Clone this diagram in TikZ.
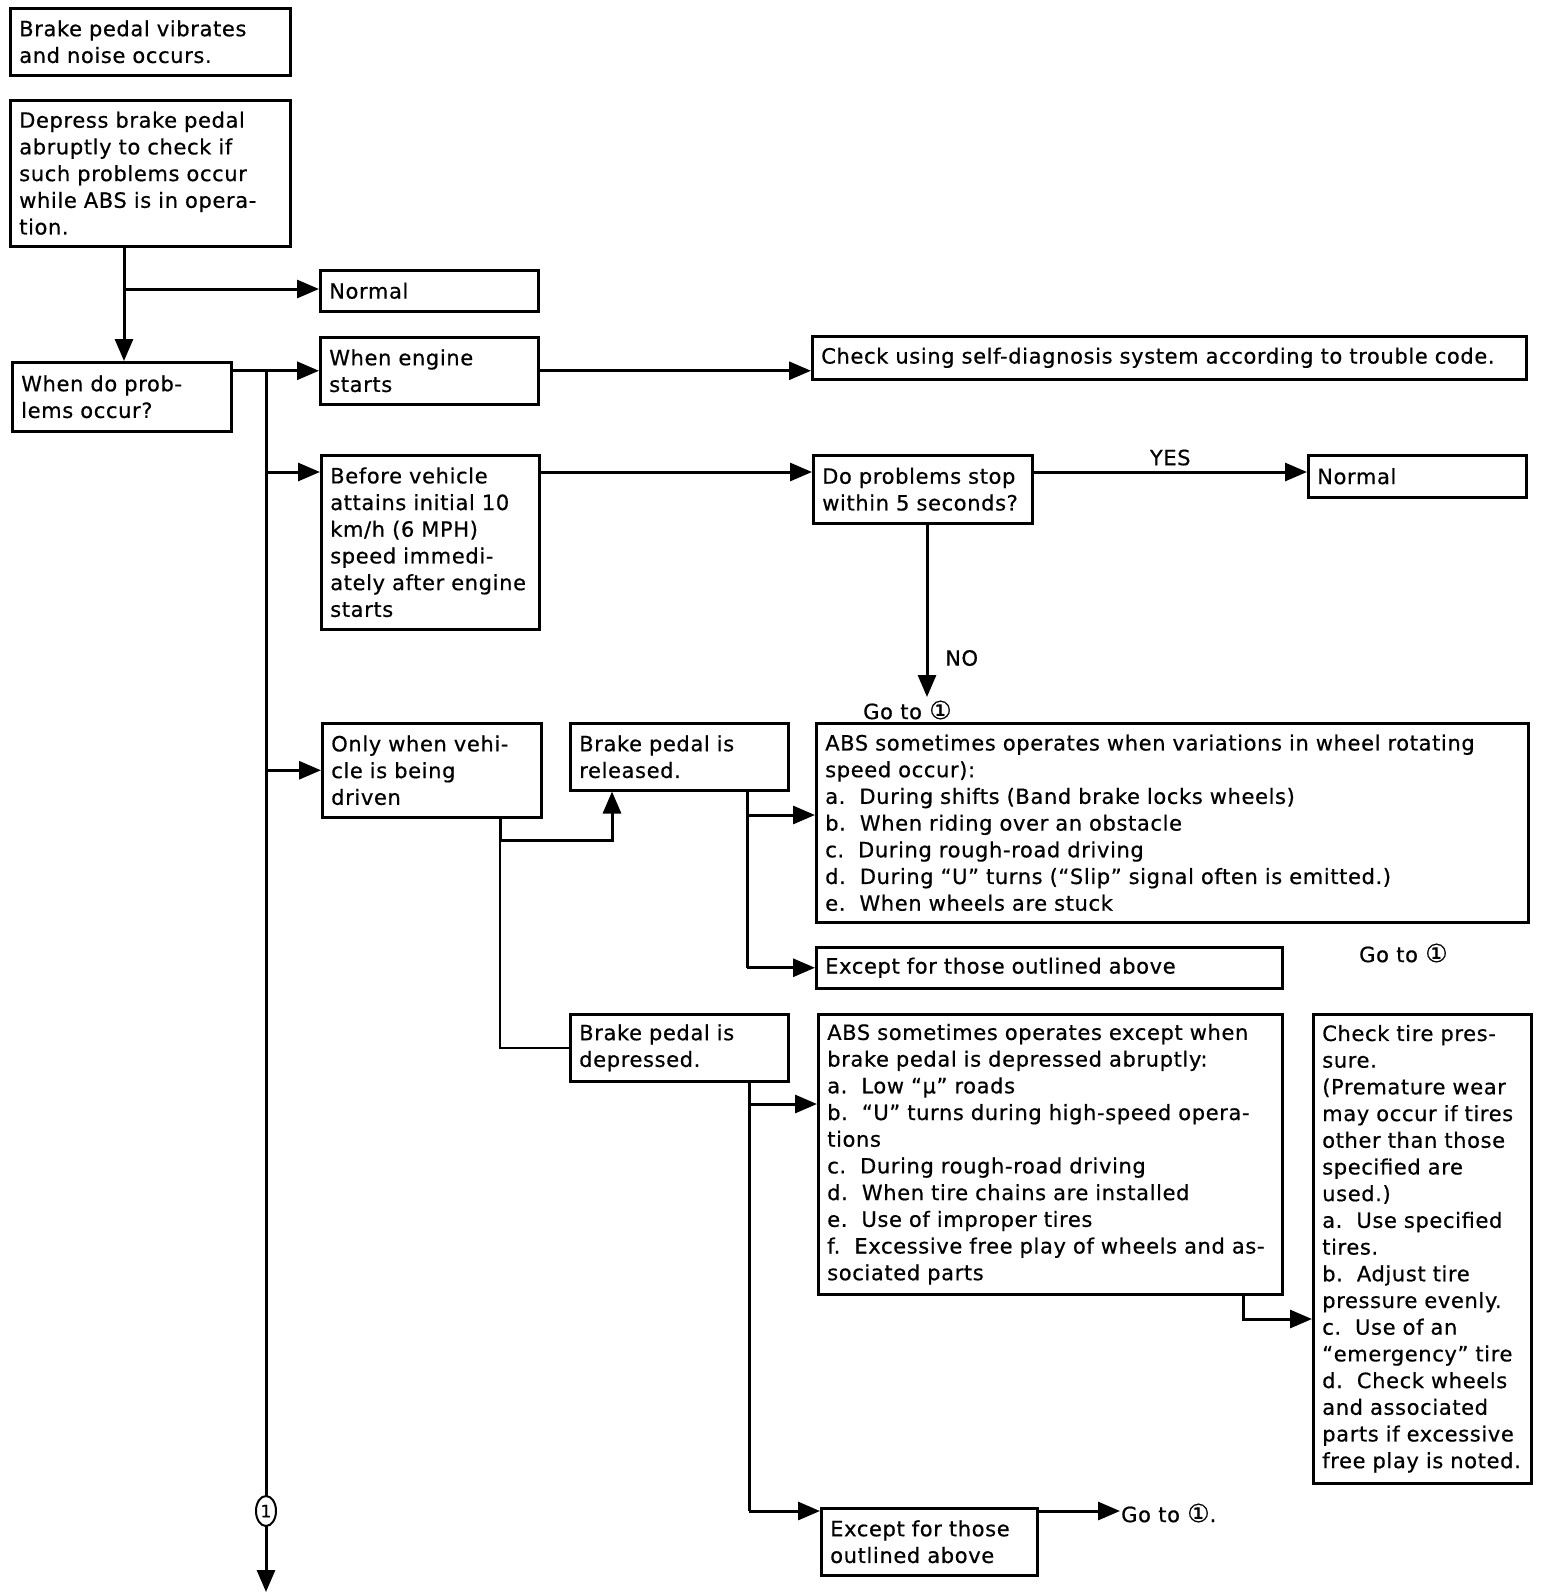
\documentclass[tikz,border=0pt]{standalone}
\usepackage{fontspec}
\setmainfont{DejaVu Sans}[LetterSpace=3, FakeBold=0.6]
\usetikzlibrary{arrows.meta,shapes.geometric}
\newcommand{\goone}{{\fontsize{25}{25}\selectfont ①}}
\begin{document}
\begin{tikzpicture}[x=1pt,y=-1pt,
  box/.style={draw, line width=2.5pt, anchor=north west, inner xsep=9pt, inner ysep=4pt, align=left, font=\fontsize{21}{26.7}\selectfont},
  conn/.style={line width=3pt},
  thinconn/.style={line width=1.6pt},
  arr/.style={conn, -{Triangle[length=22pt,width=18pt]}},
  lbl/.style={font=\fontsize{21}{22}\selectfont, inner sep=1pt}]
\useasboundingbox[fill=white] (0,0) rectangle (1552,1596);

% boxes
\node[box, text width=262pt, minimum height=67pt] (b1) at (9,7) {Brake pedal vibrates\\and noise occurs.};
\node[box, text width=262pt, minimum height=146pt] (b2) at (9,99) {Depress brake pedal\\abruptly to check if\\such problems occur\\while ABS is in opera-\\tion.};
\node[box, text width=200pt, minimum height=41pt] (n1) at (319,269) {Normal};
\node[box, text width=201pt, minimum height=69pt] (b3) at (11,361) {When do prob-\\lems occur?};
\node[box, text width=200pt, minimum height=67pt] (eng) at (319,336) {When engine\\starts};
\node[box, text width=696pt, minimum height=43pt] (chk) at (811,335) {Check using self-diagnosis system according to trouble code.};
\node[box, text width=200pt, minimum height=174pt] (bef) at (320,454) {Before vehicle\\attains initial 10\\km/h (6 MPH)\\speed immedi-\\ately after engine\\starts};
\node[box, text width=201pt, minimum height=68pt] (dop) at (812,454) {Do problems stop\\within 5 seconds?};
\node[box, text width=200pt, minimum height=42pt] (n2) at (1307,454) {Normal};
\node[box, text width=201pt, minimum height=94pt] (only) at (321,722) {Only when vehi-\\cle is being\\driven};
\node[box, text width=200pt, minimum height=67pt] (rel) at (569,722) {Brake pedal is\\released.};
\node[box, text width=200pt, minimum height=67pt] (dep) at (569,1013) {Brake pedal is\\depressed.};
\node[box, text width=694pt, minimum height=199pt] (abs1) at (815,722) {ABS sometimes operates when variations in wheel rotating\\speed occur):\\a.\ \ During shifts (Band brake locks wheels)\\b.\ \ When riding over an obstacle\\c.\ \ During rough-road driving\\d.\ \ During “U” turns (“Slip” signal often is emitted.)\\e.\ \ When wheels are stuck};
\node[box, text width=448pt, minimum height=41pt] (exc1) at (815,946) {Except for those outlined above};
\node[box, text width=446pt, minimum height=280pt] (abs2) at (817,1013) {ABS sometimes operates except when\\brake pedal is depressed abruptly:\\a.\ \ Low “μ” roads\\b.\ \ “U” turns during high-speed opera-\\tions\\c.\ \ During rough-road driving\\d.\ \ When tire chains are installed\\e.\ \ Use of improper tires\\f.\ \ Excessive free play of wheels and as-\\sociated parts};
\node[box, text width=200pt, minimum height=469pt] (tire) at (1312,1013) {Check tire pres-\\sure.\\(Premature wear\\may occur if tires\\other than those\\specified are\\used.)\\a.\ \ Use specified\\tires.\\b.\ \ Adjust tire\\pressure evenly.\\c.\ \ Use of an\\“emergency” tire\\d.\ \ Check wheels\\and associated\\parts if excessive\\free play is noted.};
\node[box, text width=198pt, minimum height=67pt] (exc2) at (820,1507) {Except for those\\outlined above};

% helper coordinates
\coordinate (xA) at (124,289);
\coordinate (tt) at (266,0);
\coordinate (tend) at (266,1592);
\coordinate (yB) at (0,472);
\coordinate (xN) at (927,0);
\coordinate (noend) at (927,697);
\coordinate (xO) at (500,0);
\coordinate (yO) at (0,840);
\coordinate (xR) at (612,0);
\coordinate (xR2) at (747,0);
\coordinate (yA1) at (0,815);
\coordinate (xD) at (749,0);
\coordinate (yA2) at (0,1104);
\coordinate (yE2) at (0,1511);
\coordinate (xT) at (1243,0);
\coordinate (yT) at (0,1319);

% connectors
\draw[arr] (b2.south -| xA) -- (b3.north -| xA);
\draw[arr] (xA) -- (xA -| n1.west);
\draw[arr] (b3.east |- eng.west) -- (eng.west);
\draw[arr] (tt |- eng.west) -- (tend);
\draw[arr] (tt |- yB) -- (bef.west |- yB);
\draw[arr] (tt |- only.west) -- (only.west);
\draw[arr] (eng.east) -- (eng.east -| chk.west);
\draw[arr] (bef.east |- yB) -- (dop.west |- yB);
\draw[arr] (dop.east |- yB) -- node[lbl, above=4pt] (yes) {YES} (n2.west |- yB);
\draw[arr] (dop.south -| xN) -- (noend);
\node[lbl, anchor=west] (no) at (944,658) {NO};
\node[lbl, anchor=west] (go1) at (862,710) {Go to \goone};

\draw[thinconn] (only.south -| xO) -- (xO |- dep.west) -- (dep.west);
\draw[conn] (only.south -| xO) -- (xO |- yO);
\draw[arr] (xO |- yO) -- (xR |- yO) -- (rel.south -| xR);

\draw[conn] (rel.south -| xR2) -- (xR2 |- exc1.west);
\draw[arr] (xR2 |- yA1) -- (abs1.west |- yA1);
\draw[arr] (xR2 |- exc1.west) -- (exc1.west);
\node[lbl, anchor=west] (go2) at (1358,953) {Go to \goone};

\draw[conn] (dep.south -| xD) -- (xD |- yE2);
\draw[arr] (xD |- yA2) -- (abs2.west |- yA2);
\draw[arr] (xD |- yE2) -- (exc2.west |- yE2);

\draw[arr] (abs2.south -| xT) -- (xT |- yT) -- (tire.west |- yT);

\node[lbl, anchor=west] (go3) at (1120,1513) {Go to \goone.};
\draw[arr] (exc2.east |- yE2) -- (go3.west |- yE2);

\node[ellipse, draw, line width=2pt, fill=white, minimum width=20pt, minimum height=30pt, inner sep=0pt, font=\fontsize{17}{17}\selectfont] (c1) at (266,1511) {1};
\end{tikzpicture}
\end{document}
